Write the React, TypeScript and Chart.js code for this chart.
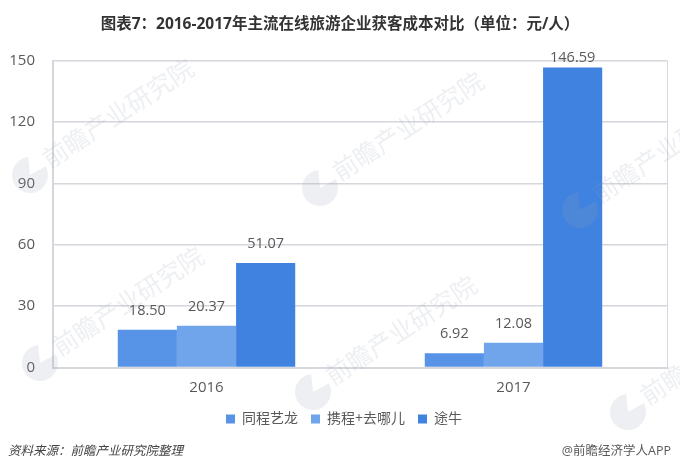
import { useEffect, useRef } from 'react'
import { Chart, registerables } from 'chart.js'
import type { Plugin } from 'chart.js'

Chart.register(...registerables)

const FONT = '"Open Sans", "Noto Sans CJK SC", sans-serif'

const years = ['2016', '2017']
const tongcheng = [18.5, 6.92]
const ctrip = [20.37, 12.08]
const tuniu = [51.07, 146.59]
const seriesNames = ['同程艺龙', '携程+去哪儿', '途牛']
const seriesColors = ['#5793e6', '#70a5ec', '#3f82e0']
const yTicks = [0, 30, 60, 90, 120, 150]

const titleText = '图表7：2016-2017年主流在线旅游企业获客成本对比（单位：元/人）'
const sourceText = '资料来源：前瞻产业研究院整理'
const brandText = '@前瞻经济学人APP'
const watermarkText = '前瞻产业研究院'
const watermarkSpots = [
  [30, 175],
  [320, 188],
  [580, 210],
  [40, 363],
  [313, 392],
  [628, 412],
]

// the watermark is stamped over the bars too
const watermark: Plugin<'bar'> = {
  id: 'watermark',
  afterDatasetsDraw(chart) {
    const { ctx } = chart
    watermarkSpots.forEach(([x, y]) => {
      ctx.save()
      ctx.fillStyle = 'rgba(150,160,180,0.17)'
      ctx.beginPath()
      ctx.moveTo(x, y)
      ctx.arc(x, y, 18, -0.5, Math.PI * 1.5 - 0.1)
      ctx.closePath()
      ctx.fill()
      ctx.translate(x + 16, y - 12)
      ctx.rotate(-0.58)
      ctx.font = `25px ${FONT}`
      ctx.textAlign = 'left'
      ctx.textBaseline = 'middle'
      ctx.fillText(watermarkText, 0, 0)
      ctx.restore()
    })
  },
}

const barLabels: Plugin<'bar'> = {
  id: 'barLabels',
  afterDatasetsDraw(chart) {
    const { ctx } = chart
    ctx.save()
    ctx.font = `14.5px ${FONT}`
    ctx.fillStyle = '#595959'
    ctx.textAlign = 'center'
    ctx.textBaseline = 'middle'
    chart.data.datasets.forEach((ds, i) => {
      chart.getDatasetMeta(i).data.forEach((bar, j) => {
        // tall bar's label gets pushed down against the top of the plot
        ctx.fillText((ds.data[j] as number).toFixed(2), bar.x, Math.max(58, bar.y - 19))
      })
    })
    ctx.restore()
  },
}

// legend sits a little right of the page centre
const legendNudge: Plugin<'bar'> = {
  id: 'legendNudge',
  afterLayout(chart) {
    if (!chart.legend) return
    chart.legend.left += 4
    chart.legend.right += 4
  },
}

const notes: Plugin<'bar'> = {
  id: 'notes',
  afterDraw(chart) {
    const { ctx, width } = chart
    ctx.save()
    ctx.textBaseline = 'middle'
    ctx.fillStyle = '#444'
    ctx.font = `italic 12.5px ${FONT}`
    ctx.textAlign = 'left'
    ctx.fillText(sourceText, 8, 451)
    ctx.fillStyle = '#595959'
    ctx.font = `12.5px ${FONT}`
    ctx.textAlign = 'right'
    ctx.fillText(brandText, width - 9, 451)
    ctx.restore()
  },
}

export default function App() {
  const canvasRef = useRef<HTMLCanvasElement>(null)

  useEffect(() => {
    if (!canvasRef.current) return
    const values = [tongcheng, ctrip, tuniu]
    const chart = new Chart(canvasRef.current, {
      type: 'bar',
      data: {
        labels: years,
        datasets: seriesNames.map((name, i) => ({
          label: name,
          data: values[i],
          backgroundColor: seriesColors[i],
          categoryPercentage: 0.578,
          barPercentage: 1,
          borderWidth: 0,
        })),
      },
      options: {
        responsive: false,
        animation: false,
        layout: { padding: { top: 0, right: 0, bottom: 33, left: 0 } },
        plugins: {
          tooltip: { enabled: false },
          title: {
            display: true,
            text: titleText,
            color: '#333',
            font: { family: FONT, size: 15.5, weight: 'bold' },
            padding: { top: 15, bottom: 27 },
          },
          legend: {
            position: 'bottom',
            labels: {
              boxWidth: 9,
              boxHeight: 9,
              padding: 13,
              color: '#595959',
              font: { family: FONT, size: 14 },
            },
          },
        },
        scales: {
          x: {
            afterFit: (s) => {
              s.height = 31.5
            },
            grid: {
              offset: true,
              color: (c) => (c.index === 1 ? 'transparent' : '#d6d6dd'),
              drawTicks: false,
            },
            border: { color: '#d6d6dd', width: 2 },
            ticks: { color: '#595959', font: { family: FONT, size: 15 }, padding: 11.5 },
          },
          y: {
            min: 0,
            max: 150,
            afterFit: (s) => {
              s.width = 53
            },
            afterBuildTicks: (s) => {
              s.ticks = yTicks.map((value) => ({ value }))
            },
            grid: { color: '#d6d6dd', lineWidth: 1.5, drawTicks: false },
            border: { color: '#d6d6dd', width: 2 },
            ticks: { color: '#595959', font: { family: FONT, size: 15 }, padding: 18 },
          },
          // empty axis, only keeps the plot off the right edge so title and legend stay centred on the page
          spacer: {
            position: 'right',
            afterFit: (s) => {
              s.width = 13
            },
            ticks: { display: false },
            grid: { display: false },
            border: { display: false },
          },
        },
      },
      plugins: [barLabels, watermark, legendNudge, notes],
    })
    return () => chart.destroy()
  }, [])

  return (
    <canvas
      ref={canvasRef}
      width={680}
      height={469}
      style={{ display: 'block', position: 'absolute', left: 0, top: 0, background: '#fff' }}
    />
  )
}
